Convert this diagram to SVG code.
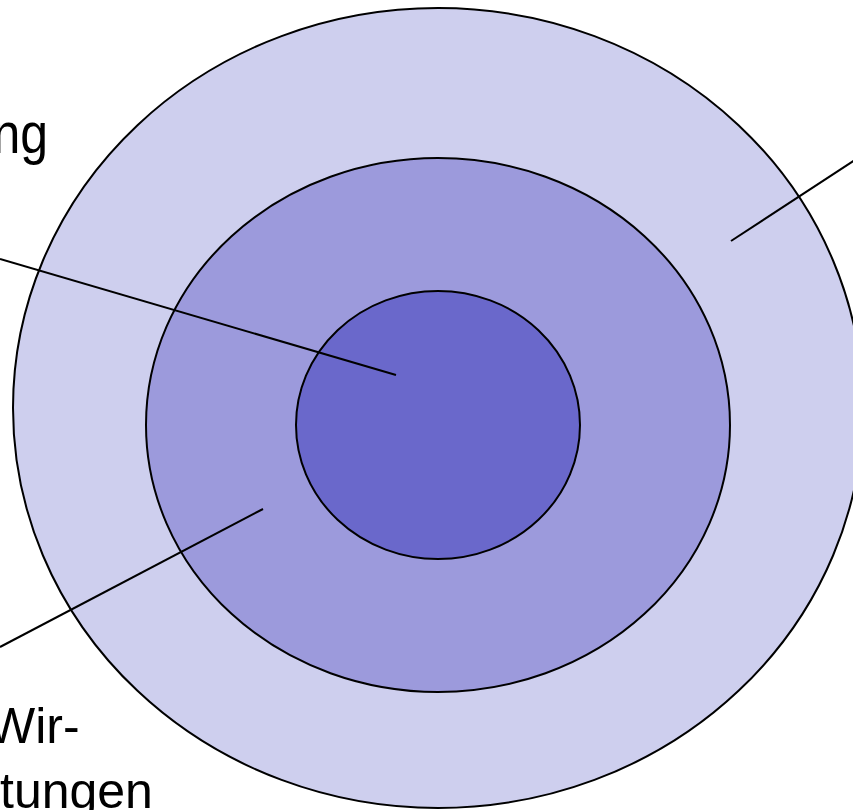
<svg xmlns="http://www.w3.org/2000/svg" width="853" height="810" viewBox="0 0 853 810">
<style>
.ring{stroke:#000;stroke-width:2}
.lbl{font-family:"Liberation Sans",Arial,sans-serif;font-size:50px;fill:#000}
.conn line{stroke:#000;stroke-width:2}
</style>
<rect width="853" height="810" fill="#fff"/>
<g id="outer"><ellipse class="ring" cx="438" cy="408" rx="425" ry="400" fill="#CECFEE"/></g>
<g id="middle"><ellipse class="ring" cx="438" cy="425" rx="292" ry="267" fill="#9C9ADC"/></g>
<g id="inner"><ellipse class="ring" cx="438" cy="425" rx="142" ry="134" fill="#6A68CB"/></g>
<g id="connectors" class="conn">
<line x1="0" y1="259" x2="396" y2="375"/>
<line x1="263" y1="509" x2="0" y2="647"/>
<line x1="731" y1="241" x2="855" y2="160"/>
</g>
<g id="label-top"><text class="lbl" transform="translate(48,152.5) scale(1,1.15)" text-anchor="end">ng</text></g>
<g id="label-bottom"><text class="lbl" x="-12" y="743">Wir-</text><text class="lbl" x="0" y="808">tungen</text></g>
</svg>
